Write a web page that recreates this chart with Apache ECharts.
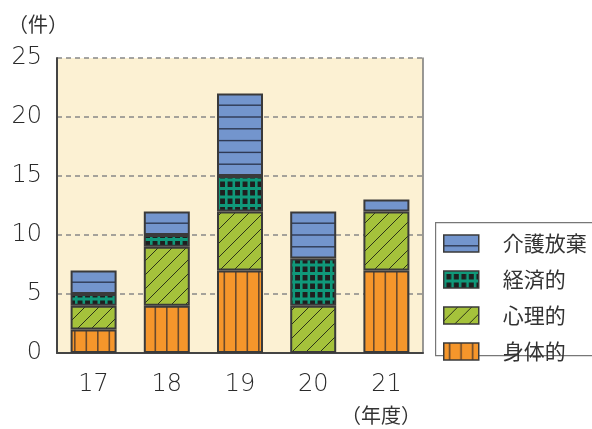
<!DOCTYPE html>
<html>
<head>
<meta charset="utf-8">
<script src="https://cdn.jsdelivr.net/npm/echarts@6/dist/echarts.min.js"></script>
<style>
  html, body { margin: 0; padding: 0; background: #fff; }
  #chart { width: 592px; height: 429px; }
</style>
</head>
<body>
<div id="chart"></div>
<script>
// Fiscal years and case counts by type of abuse
const years = ['17', '18', '19', '20', '21'];
const physical = [2, 4, 7, null, 7];   // 身体的
const psychological = [2, 5, 5, 4, 5]; // 心理的
const financial = [1, 1, 3, 4, null];  // 経済的
const neglect = [2, 2, 7, 4, 1];       // 介護放棄
const yTicks = { min: 0, max: 25, interval: 5 };

// Hatch fills drawn onto small tiles and repeated
function tile(w, h, draw) {
  const c = document.createElement('canvas');
  c.width = w; c.height = h;
  draw(c.getContext('2d'), w, h);
  return { image: c, repeat: 'repeat' };
}

const orangeFill = tile(23, 10, (g, w, h) => {
  g.fillStyle = '#f5962b'; g.fillRect(0, 0, w, h);
  g.fillStyle = '#6a4a2c';
  g.fillRect(5, 0, 1.6, h);
  g.fillRect(16.5, 0, 1.6, h);
});

const greenFill = tile(14, 14, (g, w, h) => {
  g.fillStyle = '#a5c23b'; g.fillRect(0, 0, w, h);
  g.strokeStyle = '#2c3318'; g.lineWidth = 1;
  g.beginPath();
  g.moveTo(-1, 15); g.lineTo(15, -1);
  g.moveTo(-1, 1); g.lineTo(1, -1);
  g.moveTo(13, 15); g.lineTo(15, 13);
  g.stroke();
});

const checkFill = tile(15, 17, (g, w, h) => {
  g.fillStyle = '#1f1f1f'; g.fillRect(0, 0, w, h);
  g.fillStyle = '#10997a';
  g.fillRect(0, 0, 2.6, h); g.fillRect(7.5, 0, 2.6, h);
  g.fillRect(0, 0, w, 3); g.fillRect(0, 8.5, w, 3);
});

const blueFill = tile(10, 59, (g, w, h) => {
  g.fillStyle = '#7395cd'; g.fillRect(0, 0, w, h);
  g.fillStyle = '#2f3a55';
  [10.8, 22.6, 34.4, 46.2, 58].forEach(y => g.fillRect(0, y - 0.7, w, 1.4));
});

const border = { borderColor: '#3a3a3a', borderWidth: 2 };

function bar(name, data, fill) {
  return {
    name, type: 'bar', stack: 'total', data, barWidth: 46,
    itemStyle: Object.assign({ color: fill }, border),
    emphasis: { disabled: true }
  };
}

const numFont = { fontSize: 24, color: '#2a2a2a', fontFamily: 'DejaVu Sans', fontWeight: 200 };

const chart = echarts.init(document.getElementById('chart'), null, { renderer: 'canvas' });
chart.setOption({
  animation: false,
  grid: {
    left: 57, right: 169, top: 58, bottom: 76,
    show: true, backgroundColor: '#fcf1d3', borderWidth: 0
  },
  xAxis: {
    type: 'category', data: years,
    axisLine: { lineStyle: { color: '#444', width: 2 } },
    axisTick: { show: false },
    axisLabel: Object.assign({ margin: 20 }, numFont)
  },
  yAxis: [{
    type: 'value', min: yTicks.min, max: yTicks.max, interval: yTicks.interval,
    axisLine: { show: true, lineStyle: { color: '#444', width: 2 } },
    axisTick: { show: false },
    axisLabel: Object.assign({ margin: 15 }, numFont),
    splitLine: { lineStyle: { color: '#888', width: 1.5, type: [5, 4] } }
  }, {
    type: 'value', position: 'right', min: yTicks.min, max: yTicks.max, interval: yTicks.interval,
    axisLine: { show: true, lineStyle: { color: '#777', width: 1.5 } },
    axisTick: { show: false }, axisLabel: { show: false }, splitLine: { show: false }
  }],
  legend: {
    orient: 'vertical', left: 443, top: 233,
    itemWidth: 35, itemHeight: 17, itemGap: 15, padding: 0,
    icon: 'rect',
    data: ['介護放棄', '経済的', '心理的', '身体的'],
    itemStyle: { borderColor: '#3a3a3a', borderWidth: 1.5 },
    textStyle: { fontSize: 21, color: '#333', fontFamily: 'Noto Sans CJK JP', padding: [0, 0, 0, 19] },
    selectedMode: false
  },
  graphic: [
    { type: 'rect', left: 435, top: 222, z: -1,
      shape: { width: 170, height: 133 },
      style: { fill: '#fff', stroke: '#777', lineWidth: 1.2 } },
    { type: 'text', left: 8, top: 14,
      style: { text: '（件）', fontSize: 20, fill: '#333', fontFamily: 'Noto Sans CJK JP' } },
    { type: 'text', left: 341, top: 405,
      style: { text: '（年度）', fontSize: 20, fill: '#333', fontFamily: 'Noto Sans CJK JP' } }
  ],
  series: [
    bar('身体的', physical, orangeFill),
    bar('心理的', psychological, greenFill),
    bar('経済的', financial, checkFill),
    bar('介護放棄', neglect, blueFill)
  ]
});
</script>
</body>
</html>
